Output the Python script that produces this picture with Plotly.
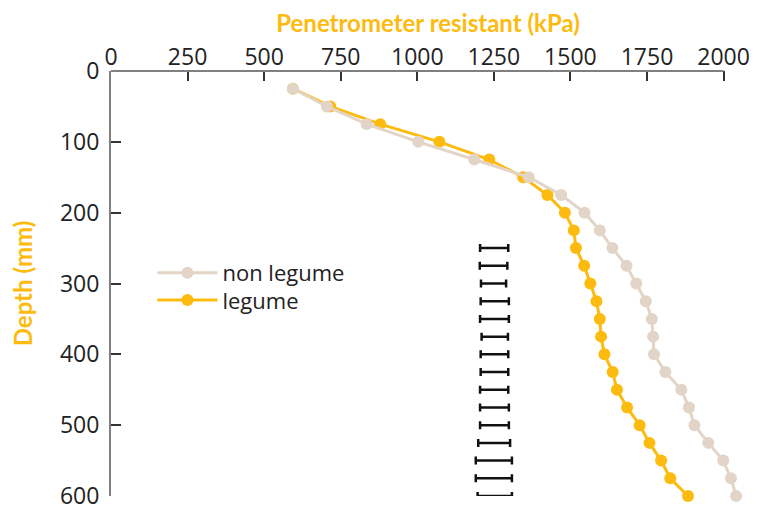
import plotly.graph_objects as go

depth = [25, 50, 75, 100, 125, 150, 175, 200, 225, 250, 275, 300,
         325, 350, 375, 400, 425, 450, 475, 500, 525, 550, 575, 600]

non_legume = [594, 705, 835, 1003, 1186, 1364, 1470, 1546, 1596, 1637, 1683, 1715,
              1746, 1766, 1770, 1773, 1810, 1862, 1887, 1905, 1950, 1999, 2024, 2041]

legume = [594, 716, 879, 1072, 1235, 1346, 1425, 1482, 1511, 1518, 1545, 1565,
          1585, 1596, 1600, 1611, 1638, 1652, 1685, 1726, 1758, 1796, 1826, 1884]

err_depth = [250, 275, 300, 325, 350, 375, 400, 425, 450, 475, 500, 525, 550, 575, 600]
err_center = [1251, 1249, 1249, 1253, 1252, 1253, 1252, 1252, 1251, 1252, 1252, 1251, 1250, 1250, 1253]
err_half = [46, 45, 41, 46, 47, 43, 45, 45, 46, 47, 47, 52, 59, 59, 56]

x_ticks = [0, 250, 500, 750, 1000, 1250, 1500, 1750, 2000]
y_ticks = [0, 100, 200, 300, 400, 500, 600]

YELLOW = "#FDBB10"
BEIGE = "#E2D5C7"
AXIS = "#808080"
FONT = "Open Sans"
TFONT = "Lato"

fig = go.Figure()

fig.add_trace(go.Scatter(
    x=err_center, y=err_depth, mode="markers",
    marker=dict(size=1, color="rgba(0,0,0,0)"),
    error_x=dict(type="data", array=err_half, symmetric=True,
                 color="#111111", thickness=2.5, width=4),
    showlegend=False, hoverinfo="skip", cliponaxis=False))

fig.add_trace(go.Scatter(
    x=legume, y=depth, name="legume", mode="lines+markers", legend="legend2",
    line=dict(color=YELLOW, width=3), marker=dict(size=12, color=YELLOW),
    cliponaxis=False))

fig.add_trace(go.Scatter(
    x=non_legume, y=depth, name="non legume", mode="lines+markers", legend="legend",
    line=dict(color=BEIGE, width=3), marker=dict(size=12, color=BEIGE),
    cliponaxis=False))

# top axis line only up to the last tick
fig.add_shape(type="line", xref="x", yref="paper", x0=x_ticks[0], x1=x_ticks[-1], y0=1, y1=1,
              line=dict(color=AXIS, width=2), layer="above")

plot_h = 424.7
leg_common = dict(xanchor="left", yanchor="middle",
                  font=dict(family=FONT, size=22, color="#222222"),
                  bgcolor="rgba(0,0,0,0)", itemwidth=60)
fig.update_layout(
    width=763, height=506,
    margin=dict(l=102.5, r=25.5, t=63, b=18.3),
    paper_bgcolor="white", plot_bgcolor="white",
    font=dict(family=FONT, size=23, color="#222222"),
    legend=dict(x=41.5 / 635, y=1 - (272.7 - 71) / plot_h, **leg_common),
    legend2=dict(x=41.5 / 635, y=1 - (300 - 71) / plot_h, **leg_common),
    xaxis=dict(
        side="top", range=[0, 2070], tickvals=x_ticks, automargin=False,
        showgrid=False, zeroline=False, showline=False,
        ticks="inside", ticklen=10, tickwidth=1.5, tickcolor="#333333",
        ticklabelstandoff=0,
        tickfont=dict(family=FONT, size=23, color="#222222"),
        title=dict(text="<b>Penetrometer resistant (kPa)</b>",
                   font=dict(family=TFONT, size=24, color=YELLOW), standoff=18),
    ),
    yaxis=dict(
        range=[600, 0], tickvals=y_ticks, automargin=False,
        showgrid=False, zeroline=False, showline=True, linecolor=AXIS, linewidth=2,
        ticks="inside", ticklen=10, tickwidth=1.5, tickcolor="#333333",
        ticklabelstandoff=5,
        tickfont=dict(family=FONT, size=23, color="#222222"),
        title=dict(text="<b>Depth (mm)</b>",
                   font=dict(family=TFONT, size=24, color=YELLOW), standoff=22),
    ),
)

fig.write_html("out.html")
